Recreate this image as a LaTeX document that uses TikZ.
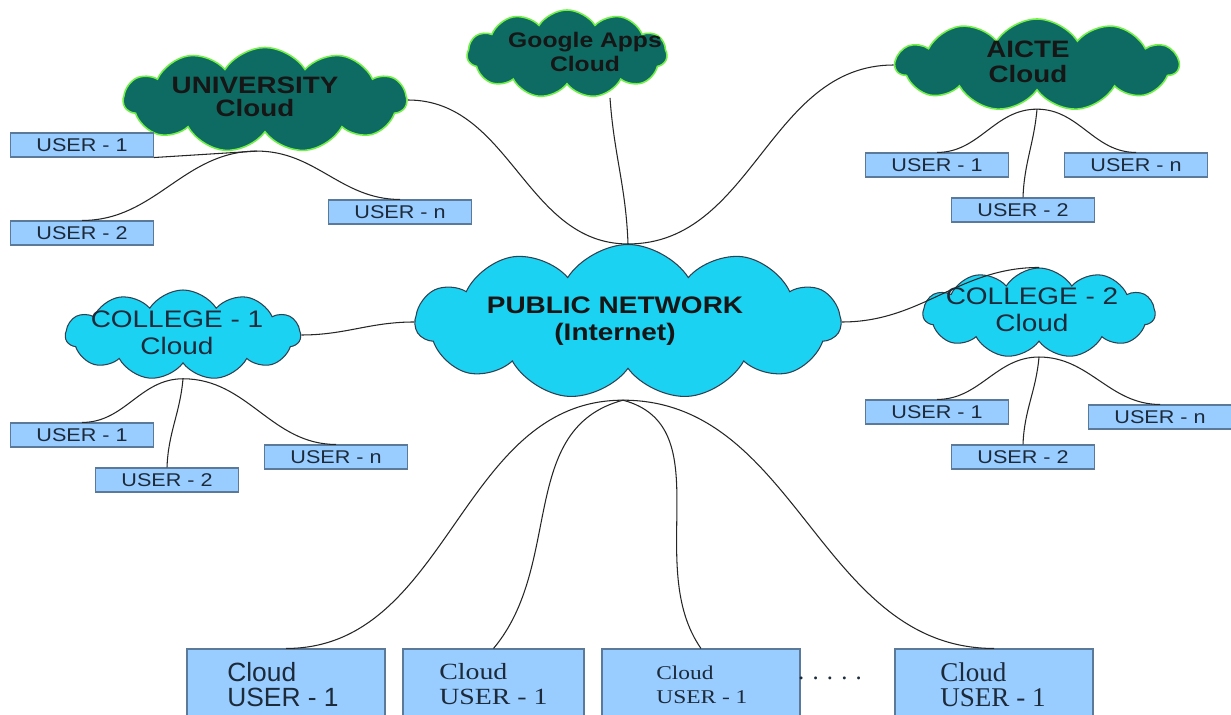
\documentclass[tikz,border=0pt]{standalone}
\usepackage{fontspec}
\setmainfont{Liberation Sans}
\newfontfamily\widesans[FakeStretch=1.17]{Liberation Sans}
\newfontfamily\boxserif{Liberation Serif}
\newfontfamily\wideserif[FakeStretch=1.2]{Liberation Serif}
\usetikzlibrary{shapes.symbols}

\definecolor{tealcloud}{HTML}{0E6B63}
\definecolor{limeedge}{HTML}{72F046}
\definecolor{skycloud}{HTML}{1CD2F2}
\definecolor{slateedge}{HTML}{2F4050}
\definecolor{boxblue}{HTML}{99CCFF}
\definecolor{boxedge}{HTML}{5B7A99}
\definecolor{inkdark}{HTML}{161616}
\definecolor{inknavy}{HTML}{1C2A3A}

\tikzset{
  darkcloud/.style={cloud, cloud puffs=11, cloud puff arc=115, cloud ignores aspect,
    fill=tealcloud, draw=limeedge, line width=0.9pt, inner sep=0pt},
  cyancloud/.style={cloud, cloud puffs=11, cloud puff arc=115, cloud ignores aspect,
    fill=skycloud, draw=slateedge, line width=0.6pt, inner sep=0pt},
  cloudlabel/.style={align=center, text=inkdark, font=\widesans\bfseries\fontsize{13.5}{13}\selectfont},
  collegelabel/.style={align=center, text=inknavy, font=\widesans\fontsize{13.6}{15.3}\selectfont},
  userbox/.style={rectangle, fill=boxblue, draw=boxedge, line width=0.6pt,
    minimum width=2.86cm, minimum height=0.48cm, inner sep=0pt, text=inknavy,
    font=\widesans\fontsize{10.5}{10}\selectfont},
  cloudbox/.style={rectangle, fill=boxblue, draw=boxedge, line width=0.6pt,
    minimum width=3.96cm, minimum height=1.5cm, inner sep=0pt},
  boxlabel/.style={anchor=west, align=left, text=inknavy, inner sep=0pt},
  link/.style={line width=0.6pt, draw=black!85}
}

\begin{document}
\begin{tikzpicture}
	\useasboundingbox (0,0) rectangle (24.62,-14.30);
	\fill[white] (0,0) rectangle (24.62,-14.30);

	\node[darkcloud, minimum width=5.66cm, minimum height=2.10cm] (uni) at (5.30,-2.00) {};
	\node[cloudlabel] (unit) at (5.10,-1.94) {UNIVERSITY\\Cloud};

	\node[darkcloud, minimum width=4.00cm, minimum height=1.76cm] (goog) at (11.34,-1.08) {};
	\node[cloudlabel, font=\widesans\bfseries\fontsize{12}{14}\selectfont] (googt) at (11.70,-1.04) {Google Apps\\Cloud};

	\node[darkcloud, minimum width=5.66cm, minimum height=1.84cm] (aicte) at (20.74,-1.30) {};
	\node[cloudlabel, font=\widesans\bfseries\fontsize{13.5}{14.2}\selectfont] (aictet) at (20.56,-1.24) {AICTE\\Cloud};

	\node[cyancloud, minimum width=8.50cm, minimum height=3.10cm] (pub) at (12.56,-6.44) {};
	\node[cloudlabel, font=\widesans\bfseries\fontsize{13.6}{15.3}\selectfont] (pubt) at (12.30,-6.42) {PUBLIC NETWORK\\(Internet)};

	\node[cyancloud, minimum width=4.70cm, minimum height=1.80cm] (col1) at (3.66,-6.70) {};
	\node[collegelabel] (col1t) at (3.54,-6.66) {COLLEGE - 1\\Cloud};

	\node[cyancloud, minimum width=4.64cm, minimum height=1.80cm] (col2) at (20.78,-6.26) {};

	\node[userbox] (uu1) at (1.64,-2.90) {USER - 1};
	\node[userbox] (uu2) at (1.64,-4.66) {USER - 2};
	\node[userbox] (uun) at (8.00,-4.24) {USER - n};

	\node[userbox] (au1) at (18.74,-3.30) {USER - 1};
	\node[userbox] (au2) at (20.46,-4.20) {USER - 2};
	\node[userbox] (aun) at (22.72,-3.30) {USER - n};

	\node[userbox] (cu1) at (1.64,-8.70) {USER - 1};
	\node[userbox] (cu2) at (3.34,-9.60) {USER - 2};
	\node[userbox] (cun) at (6.72,-9.14) {USER - n};

	\node[userbox] (du1) at (18.74,-8.24) {USER - 1};
	\node[userbox] (du2) at (20.46,-9.14) {USER - 2};
	\node[userbox] (dun) at (23.20,-8.34) {USER - n};

	\node[cloudbox] (b1) at (5.72,-13.73) {};
	\node[cloudbox, minimum width=3.62cm] (b2) at (9.87,-13.73) {};
	\node[cloudbox] (b3) at (14.02,-13.73) {};
	\node[cloudbox] (b4) at (19.88,-13.73) {};

	\node[boxlabel, font=\fontsize{15}{14.2}\selectfont] (b1t) at (4.54,-13.69) {Cloud\\USER - 1};
	\node[boxlabel, font=\wideserif\fontsize{13.2}{14.2}\selectfont] (b2t) at (8.78,-13.69) {Cloud\\USER - 1};
	\node[boxlabel, font=\wideserif\fontsize{11.1}{13.6}\selectfont] (b3t) at (13.12,-13.70) {Cloud\\USER - 1};
	\node[boxlabel, font=\boxserif\fontsize{15.4}{14.2}\selectfont] (b4t) at (18.80,-13.69) {Cloud\\USER - 1};
	\node[font=\boxserif\fontsize{14}{14}\selectfont, text=inknavy] (dots) at (16.60,-13.56) {. . . . .};

	\coordinate (uj) at ([xshift=-0.16cm,yshift=-0.36cm]uni.south);
	\coordinate (gj) at (12.20,-1.96);
	\coordinate (aj) at ([yshift=-0.36cm]aicte.south);
	\coordinate (pj) at ([xshift=-0.1cm,yshift=-0.62cm]pub.south);
	\coordinate (c1j) at ([yshift=-0.3cm]col1.south);
	\coordinate (c2j) at ([yshift=-0.3cm]col2.south);

	\draw[link] (uj) -- (uu1.south east);
	\draw[link] (uj) to[out=180,in=0] (uu2.north);
	\draw[link] (uj) to[out=0,in=180] (uun.north);

	\draw[link] (uni.east) to[out=0,in=180] (pub.north);
	\draw[link] (gj) to[out=-86,in=92] (pub.north);
	\draw[link] (aicte.west) to[out=180,in=0] (pub.north);

	\draw[link] (aj) to[out=180,in=0] (au1.north);
	\draw[link] (aj) to[out=-95,in=88] (au2.north);
	\draw[link] (aj) to[out=0,in=180] (aun.north);

	\draw[link] (col1.east) to[out=0,in=180] (pub.west);
	\draw[link] (c1j) to[out=180,in=0] (cu1.north);
	\draw[link] (c1j) to[out=-95,in=88] (cu2.north);
	\draw[link] (c1j) to[out=0,in=180] (cun.north);

	\draw[link] (pub.east) to[out=0,in=180] (col2.north);
	\draw[link] (c2j) to[out=180,in=0] (du1.north);
	\draw[link] (c2j) to[out=-95,in=88] (du2.north);
	\draw[link] (c2j) to[out=0,in=180] (dun.north);

	\draw[link] (pj) to[out=180,in=0] (b1.north);
	\draw[link] (pj) to[out=195,in=50] (b2.north);
	\draw[link] (pj) to[out=-15,in=125] (b3.north);
	\draw[link] (pj) to[out=0,in=180] (b4.north);

	\node[collegelabel] (col2t) at (20.64,-6.20) {COLLEGE - 2\\Cloud};
\end{tikzpicture}
\end{document}
